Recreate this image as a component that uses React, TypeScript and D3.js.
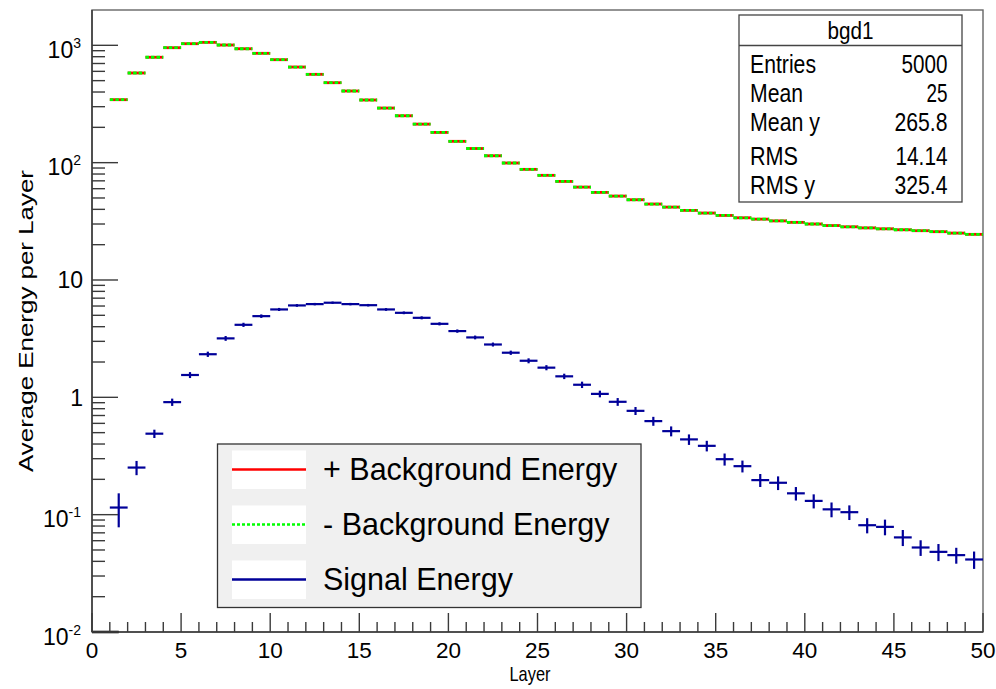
import React from "react";
import * as d3 from "d3";

// ---------- data ----------
const layerBins = [1, 2, 3, 4, 5, 6, 7, 8, 9, 10, 11, 12, 13, 14, 15, 16, 17, 18, 19, 20, 21, 22, 23, 24, 25, 26, 27, 28, 29, 30, 31, 32, 33, 34, 35, 36, 37, 38, 39, 40, 41, 42, 43, 44, 45, 46, 47, 48, 49];

const bgdPlus = [344, 581, 791, 954, 1032, 1060, 1006, 935, 855, 754, 653, 566, 480, 408, 342, 292, 251, 213, 181, 152, 132, 114.5, 99.3, 87.7, 78, 69.2, 61.9, 55.8, 51.9, 48.3, 44.4, 41.8, 39.2, 37.2, 35.5, 33.9, 33.0, 31.9, 31.0, 30.0, 29.1, 28.4, 27.8, 27.3, 26.8, 26.3, 25.8, 25.1, 24.5];

const bgdMinus = [344, 581, 791, 954, 1032, 1060, 1006, 935, 855, 754, 653, 566, 480, 408, 342, 292, 251, 213, 181, 152, 132, 114.5, 99.3, 87.7, 78, 69.2, 61.9, 55.8, 51.9, 48.3, 44.4, 41.8, 39.2, 37.2, 35.5, 33.9, 33.0, 31.9, 31.0, 30.0, 29.1, 28.4, 27.8, 27.3, 26.8, 26.3, 25.8, 25.1, 24.5];

const signal = [0.115, 0.252, 0.49, 0.91, 1.55, 2.33, 3.18, 4.15, 4.92, 5.61, 6.07, 6.23, 6.4, 6.23, 6.1, 5.61, 5.25, 4.76, 4.23, 3.67, 3.24, 2.82, 2.4, 2.05, 1.79, 1.51, 1.28, 1.07, 0.916, 0.767, 0.627, 0.515, 0.438, 0.386, 0.297, 0.259, 0.197, 0.187, 0.152, 0.131, 0.111, 0.105, 0.0813, 0.0787, 0.064, 0.0525, 0.0482, 0.0452, 0.0415];

const signalErr = [0.037, 0.035, 0.04, 0.065, 0.09, 0.12, 0.15, 0.17, 0.17, 0.17, 0.16, 0.15, 0.15, 0.15, 0.15, 0.15, 0.14, 0.14, 0.13, 0.12, 0.12, 0.11, 0.1, 0.1, 0.09, 0.08, 0.08, 0.07, 0.07, 0.06, 0.055, 0.05, 0.045, 0.04, 0.035, 0.03, 0.025, 0.025, 0.02, 0.018, 0.016, 0.015, 0.012, 0.012, 0.01, 0.008, 0.008, 0.007, 0.007];

const xMajorTicks = [0, 5, 10, 15, 20, 25, 30, 35, 40, 45, 50];
const yMajorTicks = [0.01, 0.1, 1, 10, 100, 1000];
const yTickBase = ["10", "10", "1", "10", "10", "10"];
const yTickSup = ["-2", "-1", "", "", "2", "3"];

const statsTitle = "bgd1";
const statsNames = ["Entries", "Mean", "Mean y", "RMS", "RMS y"];
const statsValues = ["5000", "25", "265.8", "14.14", "325.4"];

const legendLabels = ["+ Background Energy", "- Background Energy", "Signal Energy"];

// ---------- layout ----------
const W = 996;
const H = 689;
const L = 92;
const R = 983;
const T = 10;
const B = 632;
const FONT = "'Liberation Sans', Arial, Helvetica, sans-serif";
const RED = "#ff0000";
const GREEN = "#00ff00";
const BLUE = "#000099";
const AXIS = "#3a3a3a";

export default function App() {
  const x = d3.scaleLinear().domain([0, 50]).range([L, R]);
  const y = d3.scaleLog().domain([0.01, 2000]).range([B, T]);

  const xMinor = d3.range(0, 51).filter((v) => v % 5 !== 0);
  const yMinor: number[] = [];
  [-2, -1, 0, 1, 2].forEach((d) => {
    for (let k = 2; k <= 9; k++) yMinor.push(k * Math.pow(10, d));
  });

  const statsW = [66, 53, 70, 48, 65];
  const statsVW = [46, 21, 53, 52, 53];
  const statsBase = [72.5, 102, 131, 164.5, 193.5];

  return (
    <svg
      width={W}
      height={H}
      viewBox={`0 0 ${W} ${H}`}
      style={{ position: "absolute", left: 0, top: 0, background: "#fff" }}
      fontFamily={FONT}
    >
      <rect x={0} y={0} width={W} height={H} fill="#fff" />

      {/* frame */}
      <rect x={L} y={T} width={R - L} height={B - T} fill="none" stroke="#666" strokeWidth={1.4} />

      {/* background + (red solid) */}
      <g>
        {layerBins.map((b, i) => (
          <line key={"bp" + b} x1={x(b)} x2={x(b + 1)} y1={y(bgdPlus[i])} y2={y(bgdPlus[i])} stroke={RED} strokeWidth={2.8} />
        ))}
      </g>
      {/* background - (green dotted) */}
      <g>
        {layerBins.map((b, i) => (
          <line key={"bm" + b} x1={x(b)} x2={x(b + 1)} y1={y(bgdMinus[i])} y2={y(bgdMinus[i])} stroke={GREEN} strokeWidth={2.8} strokeDasharray="3.5,2" />
        ))}
      </g>

      {/* signal with error bars */}
      <g stroke={BLUE} strokeWidth={2.2}>
        {layerBins.map((b, i) => {
          const v = signal[i];
          const e = signalErr[i];
          return (
            <g key={"s" + b}>
              <line x1={x(b)} x2={x(b + 1)} y1={y(v)} y2={y(v)} />
              <line x1={x(b + 0.5)} x2={x(b + 0.5)} y1={y(v + e)} y2={y(Math.max(v - e, 0.0101))} />
            </g>
          );
        })}
      </g>

      {/* empty first bin at the floor */}
      <line x1={x(0)} x2={x(1.5)} y1={B} y2={B} stroke="#111" strokeWidth={2.6} />

      {/* axes */}
      <line x1={L} x2={R} y1={B} y2={B} stroke={AXIS} strokeWidth={1.5} />
      <line x1={L} x2={L} y1={T} y2={B} stroke={AXIS} strokeWidth={1.5} />

      {/* x ticks */}
      {xMajorTicks.map((t) => (
        <line key={"xM" + t} x1={x(t)} x2={x(t)} y1={B} y2={B - 19} stroke={AXIS} strokeWidth={1.4} />
      ))}
      {xMinor.map((t) => (
        <line key={"xm" + t} x1={x(t)} x2={x(t)} y1={B} y2={B - 10} stroke={AXIS} strokeWidth={1.4} />
      ))}
      {xMajorTicks.map((t) => (
        <text key={"xl" + t} x={x(t)} y={658} textAnchor="middle" fontSize={22.5} fill="#000">
          {t}
        </text>
      ))}
      <text x={530} y={681} textAnchor="middle" fontSize={21} fill="#000" textLength={41} lengthAdjust="spacingAndGlyphs">
        Layer
      </text>

      {/* y ticks */}
      {yMajorTicks.map((t) => (
        <line key={"yM" + t} x1={L} x2={L + 26} y1={y(t)} y2={y(t)} stroke={AXIS} strokeWidth={1.4} />
      ))}
      {yMinor.map((t) => (
        <line key={"ym" + t} x1={L} x2={L + 13} y1={y(t)} y2={y(t)} stroke={AXIS} strokeWidth={1.4} />
      ))}
      {yMajorTicks.map((t, i) =>
        yTickSup[i] ? (
          <text key={"yl" + t} x={81} y={y(t) + 12.5} textAnchor="end" fontSize={23} fill="#000">
            <tspan>{yTickBase[i]}</tspan>
            <tspan dy={-10} fontSize={14}>
              {yTickSup[i]}
            </tspan>
          </text>
        ) : (
          <text key={"yl" + t} x={83} y={y(t) + 8.5} textAnchor="end" fontSize={23} fill="#000">
            {yTickBase[i]}
          </text>
        )
      )}
      <text
        transform={`translate(33,${(T + B) / 2}) rotate(-90)`}
        textAnchor="middle"
        fontSize={21}
        fill="#000"
        textLength={302}
        lengthAdjust="spacingAndGlyphs"
      >
        Average Energy per Layer
      </text>

      {/* stats box */}
      <rect x={739} y={15} width={223} height={187} fill="#fff" stroke="#444" strokeWidth={1.3} />
      <line x1={739} x2={962} y1={45.5} y2={45.5} stroke="#444" strokeWidth={1.3} />
      <text x={850.5} y={38.5} textAnchor="middle" fontSize={23} fill="#000" textLength={46} lengthAdjust="spacingAndGlyphs">
        {statsTitle}
      </text>
      {statsNames.map((n, i) => (
        <g key={"st" + n}>
          <text x={750} y={statsBase[i]} fontSize={26} fill="#000" textLength={statsW[i]} lengthAdjust="spacingAndGlyphs">
            {n}
          </text>
          <text x={947.5 - statsVW[i]} y={statsBase[i]} fontSize={26} fill="#000" textLength={statsVW[i]} lengthAdjust="spacingAndGlyphs">
            {statsValues[i]}
          </text>
        </g>
      ))}

      {/* legend */}
      <rect x={217.5} y={444} width={423.5} height={163.5} fill="#f0f0f0" stroke="#333" strokeWidth={1.3} />
      {legendLabels.map((lab, i) => {
        const cy = 469.5 + i * 55;
        return (
          <g key={"lg" + i}>
            <rect x={232} y={cy - 19} width={74} height={38.5} fill="#fff" />
            {i === 0 && <line x1={232} x2={306} y1={cy} y2={cy} stroke={RED} strokeWidth={2.6} />}
            {i === 1 && <line x1={232} x2={306} y1={cy} y2={cy} stroke={GREEN} strokeWidth={2.6} strokeDasharray="3,2" />}
            {i === 2 && <line x1={232} x2={306} y1={cy} y2={cy} stroke={BLUE} strokeWidth={2.6} />}
            <text x={323} y={cy + 10} fontSize={30.5} fill="#000">
              {lab}
            </text>
          </g>
        );
      })}
    </svg>
  );
}
